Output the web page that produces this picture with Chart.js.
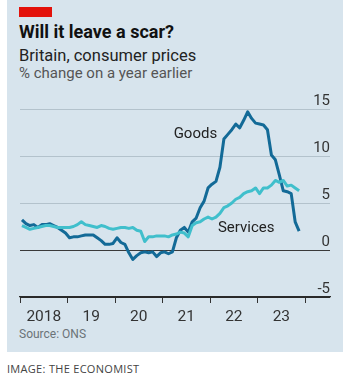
<!DOCTYPE html>
<html>
<head>
<meta charset="utf-8">
<script src="https://cdn.jsdelivr.net/npm/chart.js@4"></script>
<style>
  html, body { margin: 0; padding: 0; background: #ffffff; }
  #wrap { position: relative; width: 351px; height: 381px; overflow: hidden; font-family: "Liberation Sans Narrow", "Roboto", sans-serif; }
  #panel { position: absolute; left: 7px; top: 0; width: 336px; height: 352px; background: #d7e4ed; }
  #redbar { position: absolute; left: 19px; top: 7px; width: 33px; height: 10px; background: #e3120b; }
  .txt { position: absolute; white-space: nowrap; }
  #title { left: 19px; top: 21px; font: bold 18px "Roboto", sans-serif; color: #111; }
  #sub1 { left: 19px; top: 46px; font-size: 16.5px; color: #222; }
  #sub2 { left: 19px; top: 64px; font-size: 15px; color: #555; }
  #source { left: 19px; top: 327px; font-size: 12px; color: #6b7378; }
  #credit { left: 7px; top: 361px; font: 11px "Open Sans", sans-serif; color: #444; letter-spacing: 0.3px; }
  canvas { position: absolute; left: 0; top: 0; }
</style>
</head>
<body>
<div id="wrap">
  <div id="panel"></div>
  <div id="redbar"></div>
  <div class="txt" id="title">Will it leave a scar?</div>
  <div class="txt" id="sub1">Britain, consumer prices</div>
  <div class="txt" id="sub2">% change on a year earlier</div>
  <div class="txt" id="source">Source: ONS</div>
  <div class="txt" id="credit">IMAGE: THE ECONOMIST</div>
  <canvas id="c" width="351" height="381"></canvas>
</div>
<script>
// Monthly observations, Jan 2018 – Nov 2023
const months = [
  "2018-01","2018-02","2018-03","2018-04","2018-05","2018-06","2018-07","2018-08","2018-09","2018-10","2018-11","2018-12",
  "2019-01","2019-02","2019-03","2019-04","2019-05","2019-06","2019-07","2019-08","2019-09","2019-10","2019-11","2019-12",
  "2020-01","2020-02","2020-03","2020-04","2020-05","2020-06","2020-07","2020-08","2020-09","2020-10","2020-11","2020-12",
  "2021-01","2021-02","2021-03","2021-04","2021-05","2021-06","2021-07","2021-08","2021-09","2021-10","2021-11","2021-12",
  "2022-01","2022-02","2022-03","2022-04","2022-05","2022-06","2022-07","2022-08","2022-09","2022-10","2022-11","2022-12",
  "2023-01","2023-02","2023-03","2023-04","2023-05","2023-06","2023-07","2023-08","2023-09","2023-10","2023-11"
];
const goods = [
  3.2, 2.8, 2.6, 2.7, 2.4, 2.7, 2.7, 2.8, 2.6, 2.4, 2.1, 1.8,
  1.3, 1.4, 1.4, 1.5, 1.6, 1.6, 1.6, 1.3, 1.0, 0.6, 0.6, 0.7,
  1.3, 0.8, 0.6, -0.3, -1.0, -0.6, -0.3, -0.2, -0.3, -0.2, -0.7, -0.3,
  -0.2, -0.4, -0.2, 1.3, 2.1, 2.4, 1.9, 3.0, 3.4, 4.5, 5.2, 6.6,
  7.0, 7.3, 8.8, 11.8, 12.3, 12.8, 13.4, 13.0, 13.8, 14.7, 14.0, 13.5,
  13.4, 13.3, 12.8, 10.1, 9.6, 8.0, 6.3, 6.2, 6.0, 3.0, 2.0
];
const services = [
  2.6, 2.4, 2.2, 2.3, 2.4, 2.5, 2.6, 2.6, 2.5, 2.4, 2.4, 2.4,
  2.4, 2.5, 2.7, 3.0, 2.7, 2.6, 2.5, 2.4, 2.6, 2.5, 2.3, 2.2,
  2.3, 2.4, 2.4, 2.3, 2.4, 2.1, 2.0, 0.9, 1.4, 1.4, 1.5, 1.5,
  1.5, 1.4, 1.6, 1.7, 1.9, 1.8, 1.4, 2.6, 2.9, 3.0, 3.3, 3.5,
  3.3, 3.5, 3.9, 4.5, 4.7, 5.0, 5.4, 5.6, 6.0, 6.2, 6.3, 6.6,
  6.0, 6.6, 6.6, 6.9, 7.4, 7.2, 7.4, 6.8, 6.9, 6.6, 6.3
];
const yearStarts = [-0.5, 11.5, 23.5, 35.5, 47.5, 59.5, 71.5];
const yearLabels = ["2018", "19", "20", "21", "22", "23", ""];
const yTicks = [-5, 0, 5, 10, 15];

const GOODS_COL = "#136a97";
const SERV_COL = "#40bfcc";
const NARROW = "'Liberation Sans Narrow', 'Roboto', sans-serif";

const seriesLabels = {
  id: "seriesLabels",
  afterDatasetsDraw(chart) {
    const ctx = chart.ctx;
    const xs = chart.scales.x, ys = chart.scales.y;
    ctx.save();
    ctx.font = "15px " + NARROW;
    ctx.fillStyle = "#222";
    ctx.textBaseline = "middle";
    ctx.textAlign = "right";
    ctx.fillText("Goods", xs.getPixelForValue(49.3), ys.getPixelForValue(12.3));
    ctx.textAlign = "left";
    ctx.fillText("Services", xs.getPixelForValue(49.5), ys.getPixelForValue(2.3));
    ctx.restore();
  }
};

new Chart(document.getElementById("c"), {
  type: "line",
  data: {
    labels: months,
    datasets: [
      { label: "Services", data: services.map((v, i) => ({ x: i, y: v })), borderColor: SERV_COL, borderWidth: 3, pointRadius: 0, tension: 0, borderJoinStyle: "round" },
      { label: "Goods", data: goods.map((v, i) => ({ x: i, y: v })), borderColor: GOODS_COL, borderWidth: 3, pointRadius: 0, tension: 0, borderJoinStyle: "round" }
    ]
  },
  options: {
    responsive: false,
    animation: false,
    events: [],
    layout: { padding: { left: 20, right: 21, top: 109, bottom: 48 } },
    plugins: { legend: { display: false }, tooltip: { enabled: false }, title: { display: false } },
    scales: {
      x: {
        type: "linear",
        min: -0.5,
        max: 77.8,
        afterBuildTicks(scale) { scale.ticks = yearStarts.map(v => ({ value: v })); },
        afterFit(scale) { scale.height = 36; scale.paddingLeft = 0; scale.paddingRight = 0; },
        ticks: {
          autoSkip: false,
          maxRotation: 0,
          padding: 5,
          labelOffset: 23.8,
          color: "#333",
          font: { family: NARROW, size: 15.5 },
          callback(value, index) { return yearLabels[index]; }
        },
        grid: { drawOnChartArea: false, drawTicks: true, tickLength: 6, color: "#333", lineWidth: 1 },
        border: { display: true, color: "#2a2a2a", width: 1.2 }
      },
      y: {
        position: "right",
        min: -5,
        max: 15,
        afterBuildTicks(scale) { scale.ticks = yTicks.map(v => ({ value: v })); },
        afterFit(scale) { scale.width = 0; },
        ticks: {
          mirror: true,
          padding: 0,
          labelOffset: -8,
          color: "#333",
          font: { family: NARROW, size: 15 },
          callback(v) { return String(v); }
        },
        grid: {
          drawTicks: false,
          color(ctx) { return ctx.tick && ctx.tick.value === 0 ? "#3a3a3a" : (ctx.tick && ctx.tick.value === -5 ? "#2a2a2a" : "#b3c2cc"); },
          lineWidth: 1
        },
        border: { display: false }
      }
    }
  },
  plugins: [seriesLabels]
});
</script>
</body>
</html>
